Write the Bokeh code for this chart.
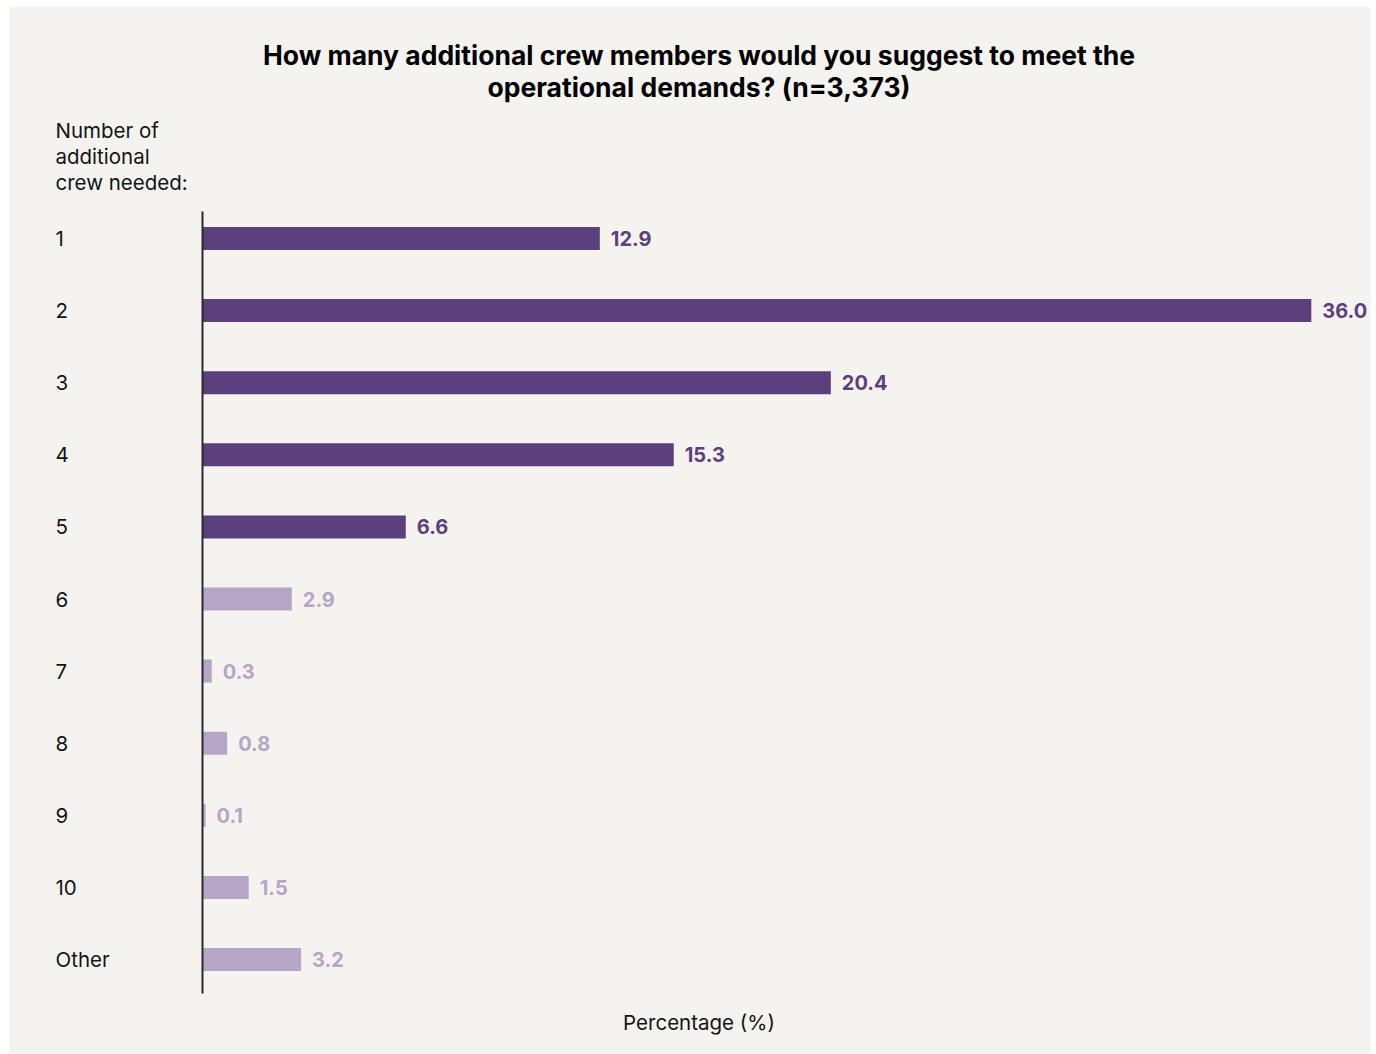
from bokeh.plotting import figure
from bokeh.models import Range1d, ColumnDataSource
from bokeh.core.properties import value
from bokeh.embed import file_html
from bokeh.resources import INLINE

# ---- data ----
categories = ["1", "2", "3", "4", "5", "6", "7", "8", "9", "10", "Other"]
percentages = [12.9, 36.0, 20.4, 15.3, 6.6, 2.9, 0.3, 0.8, 0.1, 1.5, 3.2]
title_lines = ["How many additional crew members would you suggest to meet the",
               "operational demands? (n=3,373)"]
header_lines = ["Number of", "additional", "crew needed:"]
x_label = "Percentage (%)"

# ---- layout constants (page pixels) ----
W, H = 1376, 1054
PL, PT, PR, PB = 9, 6, 1370, 1053       # grey panel
X0 = 202.0        # page x of value 0
PX_PER_UNIT = 30.8
ROW0 = 238.0      # page y of first row
ROW_STEP = 72.1

DARK = "#5c3f7d"
LIGHT = "#b5a6c6"
BG = "#f4f3ef"
INK = "#151515"
FONT = value("Inter")

def xd(px):
    return (px - X0) / PX_PER_UNIT

def yd(py):
    return (py - ROW0) / ROW_STEP

p = figure(width=W, height=H, output_backend="svg", toolbar_location=None,
           x_range=Range1d(xd(PL), xd(PR)),
           y_range=Range1d(yd(PB), yd(PT)),
           min_border_left=PL, min_border_right=W - PR,
           min_border_top=PT, min_border_bottom=H - PB)
p.background_fill_color = BG
p.border_fill_color = "white"
p.outline_line_color = None
p.xaxis.visible = False
p.yaxis.visible = False
p.grid.visible = False

rows = list(range(len(categories)))
colors = [DARK if i < 5 else LIGHT for i in rows]
src = ColumnDataSource(dict(y=rows, v=percentages, cat=categories, color=colors,
                            lbl=[f"{v:.1f}" for v in percentages]))

p.hbar(y="y", left=0, right="v", height=23 / ROW_STEP, fill_color="color",
       line_color=None, source=src)

# axis line
p.segment(x0=0, y0=yd(211), x1=0, y1=yd(993), line_color="#2a2a2a", line_width=2)

# value labels
p.text(x="v", y="y", text="lbl", source=src, x_offset=11, text_color="color",
       text_font=FONT, text_font_style="bold", text_font_size="20px",
       text_baseline="middle", text_align="left")

# category labels
p.text(x=[xd(55)] * len(rows), y=rows, text=categories, text_color=INK,
       text_font=FONT, text_font_size="20.5px", text_baseline="middle", text_align="left")

# header
p.text(x=[xd(55)] * 3, y=[yd(130), yd(156), yd(182)], text=header_lines,
       text_color=INK, text_font=FONT, text_font_size="20.5px",
       text_baseline="middle", text_align="left")

# title
p.text(x=[xd(698.5)] * 2, y=[yd(54), yd(86)], text=title_lines, text_color="black",
       text_font=FONT, text_font_style="bold", text_font_size="26.5px",
       text_baseline="middle", text_align="center")

# x label
p.text(x=[xd(698.5)], y=[yd(1022)], text=[x_label], text_color=INK,
       text_font=FONT, text_font_size="20.5px", text_baseline="middle", text_align="center")

open("out.html", "w").write(file_html(p, INLINE))
